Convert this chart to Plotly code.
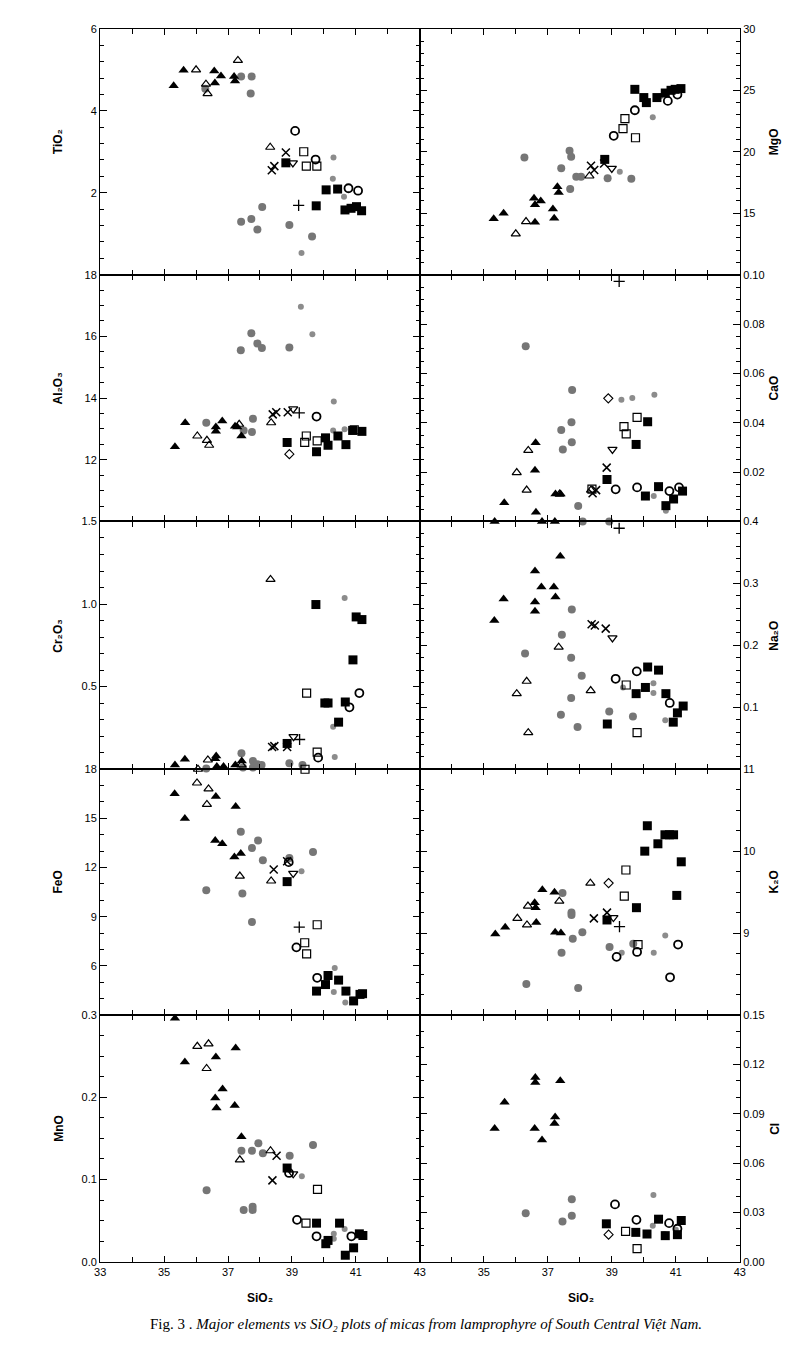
import plotly.graph_objects as go

# ---------------- data ----------------
SIO2_TICKS = [33, 35, 37, 39, 41, 43]
SIO2_MINOR = [34, 36, 38, 40, 42]

# TiO2 vs SiO2
TIO2_FTRI = [(35.30, 4.61), (35.61, 4.99), (36.57, 4.97), (36.59, 4.68), (36.78, 4.85), (37.19, 4.84), (37.22, 4.73)]
TIO2_OTRI = [(36.00, 5.00), (36.31, 4.65), (36.36, 4.42), (37.31, 5.23), (38.32, 3.11)]
TIO2_GCIR = [(36.29, 4.54), (37.41, 4.84), (37.74, 4.84), (37.71, 4.42), (38.07, 1.65), (37.73, 1.36), (37.41, 1.29), (37.92, 1.10), (38.92, 1.21), (39.63, 0.93)]
TIO2_GDIA = [(40.30, 2.86), (40.28, 2.34), (40.63, 1.90), (39.30, 0.53)]
TIO2_XCR = [(38.37, 2.55), (38.45, 2.65), (38.81, 2.98)]
TIO2_FSQ = [(38.81, 2.73), (39.76, 1.68), (40.07, 2.07), (40.43, 2.09), (40.66, 1.58), (40.85, 1.62), (41.02, 1.66), (41.18, 1.56)]
TIO2_OSQ = [(39.37, 3.00), (39.45, 2.65), (39.78, 2.65)]
TIO2_DTRI = [(39.03, 2.73)]
TIO2_OCIR = [(39.10, 3.51), (39.74, 2.81), (40.77, 2.11), (41.07, 2.05)]
TIO2_PLUS = [(39.21, 1.69)]

# MgO vs SiO2
MGO_FTRI = [(35.31, 14.54), (35.62, 15.0), (36.57, 16.22), (36.60, 15.68), (36.78, 16.0), (37.16, 15.35), (37.20, 14.59), (36.60, 14.27), (37.30, 17.16), (37.34, 16.68)]
MGO_OTRI = [(36.0, 13.32), (36.32, 14.32), (38.30, 18.03)]
MGO_GCIR = [(36.27, 19.54), (37.42, 18.65), (37.68, 20.08), (37.73, 19.59), (37.70, 16.97), (37.89, 17.97), (38.04, 17.97), (38.87, 17.84), (39.61, 17.81)]
MGO_GDIA = [(39.25, 18.38), (40.28, 22.81), (40.52, 24.51)]
MGO_XCR = [(38.35, 18.86), (38.45, 18.51), (38.76, 19.05)]
MGO_FSQ = [(38.78, 19.38), (39.72, 25.08), (40.0, 24.41), (40.08, 24.0), (40.41, 24.41), (40.67, 24.78), (40.85, 25.0), (40.98, 25.08), (41.16, 25.14)]
MGO_OSQ = [(39.41, 22.7), (39.35, 21.89), (39.74, 21.14)]
MGO_OCIR = [(39.06, 21.3), (39.72, 23.38), (40.75, 24.14), (41.05, 24.65)]
MGO_DTRI = [(39.0, 18.65)]

# Al2O3 vs SiO2
AL2O3_FTRI = [(35.34, 12.42), (35.66, 13.2), (36.62, 13.06), (36.62, 12.92), (36.82, 13.26), (37.22, 13.09), (37.29, 13.06), (37.42, 12.77)]
AL2O3_OTRI = [(36.04, 12.77), (36.34, 12.63), (36.41, 12.47), (37.35, 13.15), (38.35, 13.2)]
AL2O3_GCIR = [(36.32, 13.2), (37.40, 15.55), (37.73, 16.1), (37.92, 15.77), (38.06, 15.62), (38.92, 15.64), (37.78, 13.33), (37.75, 12.9), (37.49, 12.95)]
AL2O3_GDIA = [(39.28, 16.96), (39.64, 16.07), (40.31, 13.89), (40.29, 12.95), (40.65, 12.99)]
AL2O3_XCR = [(38.40, 13.47), (38.51, 13.54), (38.87, 13.54)]
AL2O3_DTRI = [(39.04, 13.65)]
AL2O3_PLUS = [(39.23, 13.52)]
AL2O3_OCIR = [(39.77, 13.4)]
AL2O3_FSQ = [(38.85, 12.56), (39.77, 12.26), (40.05, 12.71), (40.13, 12.47), (40.44, 12.77), (40.69, 12.49), (40.90, 12.95), (41.19, 12.92)]
AL2O3_OSQ = [(39.45, 12.77), (39.40, 12.56), (39.79, 12.61), (40.95, 12.97)]
AL2O3_ODIA = [(38.92, 12.18)]

# CaO vs SiO2
CAO_FTRI = [(35.34, 0.0), (35.64, 0.0076), (36.62, 0.0319), (36.60, 0.0207), (36.63, 0.0037), (36.82, 0.0), (37.24, 0.0111), (37.40, 0.0111), (37.22, 0.0)]
CAO_OTRI = [(36.39, 0.0288), (36.03, 0.0198), (36.34, 0.0127), (37.37, 0.0111), (38.35, 0.0127)]
CAO_GCIR = [(36.31, 0.071), (37.76, 0.0533), (37.42, 0.0371), (37.74, 0.0402), (37.75, 0.0321), (37.47, 0.0292), (37.95, 0.0063), (38.09, 0.0), (38.92, 0.0)]
CAO_GDIA = [(39.30, 0.0493), (39.64, 0.05), (40.33, 0.0513), (40.31, 0.0103), (40.69, 0.0043)]
CAO_ODIA = [(38.89, 0.0499)]
CAO_OSQ = [(39.79, 0.0422), (39.38, 0.0384), (39.45, 0.0355), (38.38, 0.0131)]
CAO_FSQ = [(40.12, 0.0404), (39.76, 0.0312), (38.85, 0.017), (40.05, 0.0103), (40.46, 0.0141), (40.93, 0.0091), (40.69, 0.0064), (41.21, 0.0123)]
CAO_DTRI = [(39.02, 0.0292)]
CAO_XCR = [(38.84, 0.0218), (38.40, 0.0114), (38.51, 0.0127)]
CAO_OCIR = [(39.12, 0.013), (39.79, 0.0138), (40.80, 0.0123), (41.10, 0.0138)]
CAO_PLUS = [(39.23, 0.0973)]

# Cr2O3 vs SiO2
CR2O3_FTRI = [(35.34, 0.026), (35.65, 0.06), (36.63, 0.08), (36.60, 0.064), (36.65, 0.016), (36.86, 0.016), (37.23, 0.026), (37.43, 0.05)]
CR2O3_OTRI = [(38.33, 1.149), (36.06, 0.0), (36.37, 0.056), (37.42, 0.026)]
CR2O3_GCIR = [(36.32, 0.004), (37.42, 0.096), (37.47, 0.01), (37.78, 0.05), (37.78, 0.01), (37.92, 0.03), (38.05, 0.026), (38.92, 0.036), (39.33, 0.026)]
CR2O3_GDIA = [(40.65, 1.037), (40.29, 0.257), (40.34, 0.074)]
CR2O3_XCR = [(38.38, 0.134), (38.45, 0.14), (38.85, 0.134)]
CR2O3_FSQ = [(38.85, 0.156), (39.75, 0.997), (40.03, 0.401), (40.13, 0.401), (41.01, 0.922), (41.19, 0.906), (40.91, 0.662), (40.67, 0.407), (40.46, 0.285)]
CR2O3_OSQ = [(39.46, 0.461), (39.79, 0.104), (39.41, 0.0)]
CR2O3_OCIR = [(41.11, 0.461), (40.80, 0.375), (39.82, 0.07)]
CR2O3_DTRI = [(39.05, 0.197)]
CR2O3_PLUS = [(39.24, 0.18)]

# Na2O vs SiO2
NA2O_FTRI = [(35.33, 0.24), (35.62, 0.275), (36.60, 0.32), (36.80, 0.294), (37.19, 0.294), (37.24, 0.278), (36.60, 0.27), (36.60, 0.255), (37.39, 0.344)]
NA2O_OTRI = [(37.34, 0.197), (36.34, 0.142), (36.03, 0.122), (38.34, 0.127), (36.39, 0.059)]
NA2O_GCIR = [(37.75, 0.258), (37.44, 0.217), (36.29, 0.187), (37.73, 0.18), (38.06, 0.151), (37.73, 0.115), (37.41, 0.088), (37.93, 0.068), (38.92, 0.093), (39.66, 0.085)]
NA2O_GDIA = [(39.35, 0.132), (40.30, 0.139), (40.30, 0.123), (40.67, 0.079)]
NA2O_XCR = [(38.37, 0.234), (38.47, 0.232), (38.81, 0.227)]
NA2O_DTRI = [(39.02, 0.212)]
NA2O_OCIR = [(39.12, 0.146), (39.78, 0.158), (40.81, 0.107)]
NA2O_OSQ = [(39.45, 0.136), (39.79, 0.059)]
NA2O_FSQ = [(38.86, 0.073), (40.12, 0.165), (40.46, 0.16), (39.76, 0.122), (40.05, 0.132), (40.69, 0.122), (41.23, 0.102), (41.05, 0.091), (40.92, 0.076)]
NA2O_PLUS = [(39.23, 0.389)]

# FeO vs SiO2
FEO_FTRI = [(35.33, 16.5), (35.65, 14.99), (36.62, 16.34), (36.60, 13.65), (36.82, 13.45), (37.24, 15.73), (37.20, 12.65), (37.40, 12.85)]
FEO_OTRI = [(36.03, 17.16), (36.39, 16.8), (36.34, 15.85), (37.37, 11.48), (38.35, 11.18)]
FEO_GCIR = [(37.40, 14.19), (37.94, 13.65), (37.75, 13.19), (38.09, 12.45), (36.32, 10.62), (37.45, 10.42), (37.75, 8.68), (38.92, 12.59), (39.66, 12.95)]
FEO_GDIA = [(39.30, 11.78), (40.34, 5.87), (40.31, 4.40), (40.67, 3.76)]
FEO_XCR = [(38.43, 11.88), (38.85, 12.39)]
FEO_OCIR = [(38.90, 12.33), (39.14, 7.13), (39.79, 5.27)]
FEO_DTRI = [(39.04, 11.64)]
FEO_FSQ = [(38.85, 11.14), (40.13, 5.41), (40.05, 4.86), (39.77, 4.46), (40.46, 5.13), (40.69, 4.46), (40.93, 3.86), (41.13, 4.26), (41.21, 4.30)]
FEO_OSQ = [(39.79, 8.51), (39.40, 7.41), (39.46, 6.73)]
FEO_PLUS = [(39.23, 8.37)]

# K2O vs SiO2
K2O_FTRI = [(35.36, 8.99), (35.67, 9.07), (36.59, 9.37), (36.62, 9.31), (36.83, 9.53), (37.21, 9.50), (36.64, 9.13), (37.23, 9.01), (37.41, 9.0)]
K2O_OTRI = [(36.05, 9.18), (36.38, 9.33), (36.35, 9.10), (37.36, 9.39), (38.33, 9.61)]
K2O_GCIR = [(37.46, 9.49), (37.74, 9.25), (37.74, 9.22), (38.08, 9.01), (37.78, 8.93), (37.43, 8.76), (36.33, 8.38), (37.95, 8.33), (38.93, 8.83), (39.67, 8.87)]
K2O_GDIA = [(39.31, 8.76), (40.31, 8.76), (40.67, 8.97)]
K2O_XCR = [(38.44, 9.18), (38.85, 9.25)]
K2O_ODIA = [(38.90, 9.61)]
K2O_FSQ = [(38.85, 9.16), (39.77, 9.31), (40.03, 10.0), (40.11, 10.31), (40.44, 10.09), (40.66, 10.2), (40.80, 10.2), (40.93, 10.2), (41.17, 9.87), (41.03, 9.46)]
K2O_OSQ = [(39.44, 9.77), (39.39, 9.45), (39.82, 8.86)]
K2O_DTRI = [(39.05, 9.19)]
K2O_PLUS = [(39.24, 9.08)]
K2O_OCIR = [(39.15, 8.71), (39.79, 8.77), (41.07, 8.86), (40.82, 8.46)]

# MnO vs SiO2
MNO_FTRI = [(35.34, 0.296), (35.65, 0.243), (36.62, 0.249), (37.24, 0.26), (36.83, 0.21), (36.60, 0.199), (36.64, 0.187), (37.21, 0.19), (37.42, 0.152)]
MNO_OTRI = [(36.04, 0.262), (36.39, 0.265), (36.33, 0.235), (37.37, 0.124), (38.33, 0.135)]
MNO_GCIR = [(36.33, 0.087), (37.42, 0.135), (37.75, 0.135), (37.95, 0.144), (38.09, 0.132), (37.49, 0.063), (37.77, 0.067), (37.77, 0.063), (38.93, 0.129), (39.66, 0.142)]
MNO_GDIA = [(39.31, 0.104), (40.31, 0.034), (40.31, 0.028), (40.65, 0.040)]
MNO_XCR = [(38.52, 0.129), (38.39, 0.099)]
MNO_FSQ = [(38.85, 0.114), (39.77, 0.047), (40.49, 0.047), (40.06, 0.022), (40.13, 0.026), (40.67, 0.008), (40.93, 0.017), (41.11, 0.034), (41.22, 0.032)]
MNO_OCIR = [(38.91, 0.108), (39.16, 0.051), (39.77, 0.031), (40.86, 0.031)]
MNO_DTRI = [(39.04, 0.107)]
MNO_OSQ = [(39.80, 0.088), (39.44, 0.047)]

# Cl vs SiO2
CL_FTRI = [(35.34, 0.081), (35.65, 0.097), (36.61, 0.112), (36.61, 0.109), (37.39, 0.110), (37.23, 0.088), (37.21, 0.084), (36.59, 0.081), (36.82, 0.074)]
CL_GCIR = [(36.31, 0.0295), (37.75, 0.038), (37.75, 0.028), (37.46, 0.0245)]
CL_GDIA = [(40.30, 0.0406), (40.28, 0.0219), (40.64, 0.0169), (41.00, 0.0195)]
CL_FSQ = [(38.83, 0.0231), (39.75, 0.0179), (40.10, 0.0169), (40.46, 0.0259), (40.67, 0.0159), (41.05, 0.0165), (41.17, 0.0251)]
CL_OCIR = [(39.10, 0.0349), (39.77, 0.0255), (40.79, 0.0235), (41.05, 0.0201)]
CL_ODIA = [(38.90, 0.0165)]
CL_OSQ = [(39.43, 0.0185), (39.79, 0.008)]

# y-axis tick labels (values, labels) -- the lower boundary value is labelled by the panel below
TIO2_TICKS = ([2, 4, 6], ["2", "4", "6"])
MGO_TICKS = ([15, 20, 25, 30], ["15", "20", "25", "30"])
AL2O3_TICKS = ([12, 14, 16, 18], ["12", "14", "16", "18"])
CAO_TICKS = ([0.02, 0.04, 0.06, 0.08, 0.10], ["0.02", "0.04", "0.06", "0.08", "0.10"])
CR2O3_TICKS = ([0.5, 1.0, 1.5], ["0.5", "1.0", "1.5"])
NA2O_TICKS = ([0.1, 0.2, 0.3, 0.4], ["0.1", "0.2", "0.3", "0.4"])
FEO_TICKS = ([6, 9, 12, 15, 18], ["6", "9", "12", "15", "18"])
K2O_TICKS = ([9, 10, 11], ["9", "10", "11"])
MNO_TICKS = ([0, 0.1, 0.2, 0.3], ["0.0", "0.1", "0.2", "0.3"])
CL_TICKS = ([0, 0.03, 0.06, 0.09, 0.12, 0.15], ["0.00", "0.03", "0.06", "0.09", "0.12", "0.15"])

# ---------------- styles ----------------
GRAY = "#767676"
GRAY2 = "#8c8c8c"
STYLES = {
    "ftri": dict(symbol="triangle-up", size=9, color="black", line=dict(width=0)),
    "otri": dict(symbol="triangle-up-open", size=8, color="black", line=dict(width=1.2)),
    "gcir": dict(symbol="circle", size=8, color=GRAY, line=dict(width=0)),
    "gdia": dict(symbol="circle", size=6, color=GRAY2, line=dict(width=0)),
    "fsq": dict(symbol="square", size=9, color="black", line=dict(width=0)),
    "osq": dict(symbol="square-open", size=8, color="black", line=dict(width=1.2)),
    "ocir": dict(symbol="circle-open", size=8, color="black", line=dict(width=1.8)),
    "xcr": dict(symbol="x-thin-open", size=8, color="black", line=dict(width=1.5)),
    "dtri": dict(symbol="triangle-down-open", size=8, color="black", line=dict(width=1.3)),
    "plus": dict(symbol="cross-thin-open", size=8, color="black", line=dict(width=1.3)),
    "odia": dict(symbol="diamond-open", size=7, color="black", line=dict(width=1.1)),
}

# panel table: (title, yrange, ticks, minor step, groups)
PANELS = [
    ("TiO₂", [0, 6], TIO2_TICKS, 0.4,
     dict(gcir=TIO2_GCIR, gdia=TIO2_GDIA, ftri=TIO2_FTRI, otri=TIO2_OTRI, xcr=TIO2_XCR, fsq=TIO2_FSQ,
          osq=TIO2_OSQ, dtri=TIO2_DTRI, ocir=TIO2_OCIR, plus=TIO2_PLUS)),
    ("MgO", [10, 30], MGO_TICKS, 1,
     dict(gcir=MGO_GCIR, gdia=MGO_GDIA, ftri=MGO_FTRI, otri=MGO_OTRI, xcr=MGO_XCR, fsq=MGO_FSQ,
          osq=MGO_OSQ, ocir=MGO_OCIR, dtri=MGO_DTRI)),
    ("Al₂O₃", [10, 18], AL2O3_TICKS, 0.5,
     dict(gcir=AL2O3_GCIR, gdia=AL2O3_GDIA, ftri=AL2O3_FTRI, otri=AL2O3_OTRI, xcr=AL2O3_XCR, dtri=AL2O3_DTRI,
          plus=AL2O3_PLUS, ocir=AL2O3_OCIR, fsq=AL2O3_FSQ, osq=AL2O3_OSQ, odia=AL2O3_ODIA)),
    ("CaO", [0, 0.10], CAO_TICKS, 0.005,
     dict(gcir=CAO_GCIR, gdia=CAO_GDIA, ftri=CAO_FTRI, otri=CAO_OTRI, odia=CAO_ODIA, osq=CAO_OSQ,
          fsq=CAO_FSQ, dtri=CAO_DTRI, xcr=CAO_XCR, ocir=CAO_OCIR, plus=CAO_PLUS)),
    ("Cr₂O₃", [0, 1.5], CR2O3_TICKS, 0.1,
     dict(gcir=CR2O3_GCIR, gdia=CR2O3_GDIA, ftri=CR2O3_FTRI, otri=CR2O3_OTRI, xcr=CR2O3_XCR, fsq=CR2O3_FSQ,
          osq=CR2O3_OSQ, ocir=CR2O3_OCIR, dtri=CR2O3_DTRI, plus=CR2O3_PLUS)),
    ("Na₂O", [0, 0.4], NA2O_TICKS, 0.02,
     dict(gcir=NA2O_GCIR, gdia=NA2O_GDIA, ftri=NA2O_FTRI, otri=NA2O_OTRI, xcr=NA2O_XCR, dtri=NA2O_DTRI,
          ocir=NA2O_OCIR, osq=NA2O_OSQ, fsq=NA2O_FSQ, plus=NA2O_PLUS)),
    ("FeO", [3, 18], FEO_TICKS, 1,
     dict(gcir=FEO_GCIR, gdia=FEO_GDIA, ftri=FEO_FTRI, otri=FEO_OTRI, xcr=FEO_XCR, ocir=FEO_OCIR,
          dtri=FEO_DTRI, fsq=FEO_FSQ, osq=FEO_OSQ, plus=FEO_PLUS)),
    ("K₂O", [8, 11], K2O_TICKS, 0.25,
     dict(gcir=K2O_GCIR, gdia=K2O_GDIA, ftri=K2O_FTRI, otri=K2O_OTRI, xcr=K2O_XCR, odia=K2O_ODIA,
          fsq=K2O_FSQ, osq=K2O_OSQ, dtri=K2O_DTRI, plus=K2O_PLUS, ocir=K2O_OCIR)),
    ("MnO", [0, 0.3], MNO_TICKS, 0.025,
     dict(gcir=MNO_GCIR, gdia=MNO_GDIA, ftri=MNO_FTRI, otri=MNO_OTRI, xcr=MNO_XCR, fsq=MNO_FSQ,
          ocir=MNO_OCIR, dtri=MNO_DTRI, osq=MNO_OSQ)),
    ("Cl", [0, 0.15], CL_TICKS, 0.01,
     dict(gcir=CL_GCIR, gdia=CL_GDIA, ftri=CL_FTRI, fsq=CL_FSQ, ocir=CL_OCIR, odia=CL_ODIA, osq=CL_OSQ)),
]

# ---------------- layout geometry (pixels in a 792x1350 page) ----------------
W, H = 792, 1350
COL_X = [(87.5, 412.0), (412.0, 737.0)]
ROW_Y = [(15, 263), (263, 512), (512, 762), (762, 1010), (1010, 1259)]
FONT = "Liberation Sans, Arial, sans-serif"

fig = go.Figure()
layout = dict(width=W, height=H, margin=dict(l=0, r=0, t=0, b=0),
              paper_bgcolor="white", plot_bgcolor="white", showlegend=False,
              font=dict(family=FONT, size=11, color="black"))
annotations = []

for i, (title, yr, (tv, tt), mstep, groups) in enumerate(PANELS):
    r, c = i // 2, i % 2
    n = i + 1
    xa = "x" if n == 1 else f"x{n}"
    ya = "y" if n == 1 else f"y{n}"
    x0, x1 = COL_X[c]
    y0, y1 = ROW_Y[r]
    xdom = [x0 / W, x1 / W]
    ydom = [1 - y1 / H, 1 - y0 / H]

    for key, pts in groups.items():
        st = STYLES[key]
        fig.add_trace(go.Scatter(
            x=[p[0] for p in pts], y=[p[1] for p in pts], mode="markers",
            xaxis=xa, yaxis=ya, cliponaxis=False, hoverinfo="skip",
            marker=dict(symbol=st["symbol"], size=st["size"], color=st["color"],
                        line=dict(color=st["color"], width=st["line"]["width"]))))

    bottom = (r == 4)
    xmaj = SIO2_TICKS if c == 0 else SIO2_TICKS[1:]
    layout["xaxis" if n == 1 else f"xaxis{n}"] = dict(
        domain=xdom, anchor=ya, range=[33, 43], showgrid=False, zeroline=False,
        showline=True, linecolor="black", linewidth=1.3, mirror="ticks",
        ticks="inside", ticklen=6, tickwidth=1.4, tickcolor="black",
        tickmode="array", tickvals=xmaj, ticktext=[str(v) for v in xmaj],
        showticklabels=bottom, tickfont=dict(family=FONT, size=11),
        minor=dict(tickmode="array", tickvals=SIO2_MINOR, ticks="inside", ticklen=5,
                   tickwidth=1.2, tickcolor="black", showgrid=False))

    nmin = int(round((yr[1] - yr[0]) / mstep))
    minor_vals = [round(yr[0] + k * mstep, 6) for k in range(nmin + 1)]
    layout["yaxis" if n == 1 else f"yaxis{n}"] = dict(
        domain=ydom, anchor=xa, range=yr, side="left" if c == 0 else "right",
        showgrid=False, zeroline=False, showline=True, linecolor="black", linewidth=1.3,
        mirror="ticks", ticks="inside", ticklen=7, tickwidth=1.3, tickcolor="black",
        tickmode="array", tickvals=tv, ticktext=tt, tickfont=dict(family=FONT, size=11),
        minor=dict(tickmode="array", tickvals=minor_vals, ticks="inside", ticklen=4,
                   tickwidth=1.1, tickcolor="black", showgrid=False))

    # rotated y-axis title
    tx = 45 if c == 0 else 772
    ty = (y0 + y1) / 2 - 10
    annotations.append(dict(x=tx / W, y=1 - ty / H, xref="paper", yref="paper",
                            text=f"<b>{title}</b>", showarrow=False, textangle=-90,
                            font=dict(family=FONT, size=12, color="black"),
                            xanchor="center", yanchor="middle"))

# x-axis titles
for cx in (250, 576):
    annotations.append(dict(x=cx / W, y=1 - 1296 / H, xref="paper", yref="paper",
                            text="<b>SiO₂</b>", showarrow=False,
                            font=dict(family=FONT, size=12, color="black"),
                            xanchor="center", yanchor="middle"))

# caption
annotations.append(dict(
    x=418 / W, y=1 - 1322 / H, xref="paper", yref="paper", showarrow=False,
    text="Fig. 3 . <i>Major elements vs SiO₂ plots of micas from lamprophyre of South Central Việt Nam.</i>",
    font=dict(family="Liberation Serif, Times New Roman, serif", size=15, color="black"),
    xanchor="center", yanchor="middle"))

layout["annotations"] = annotations
fig.update_layout(**layout)
fig.write_html("out.html")
